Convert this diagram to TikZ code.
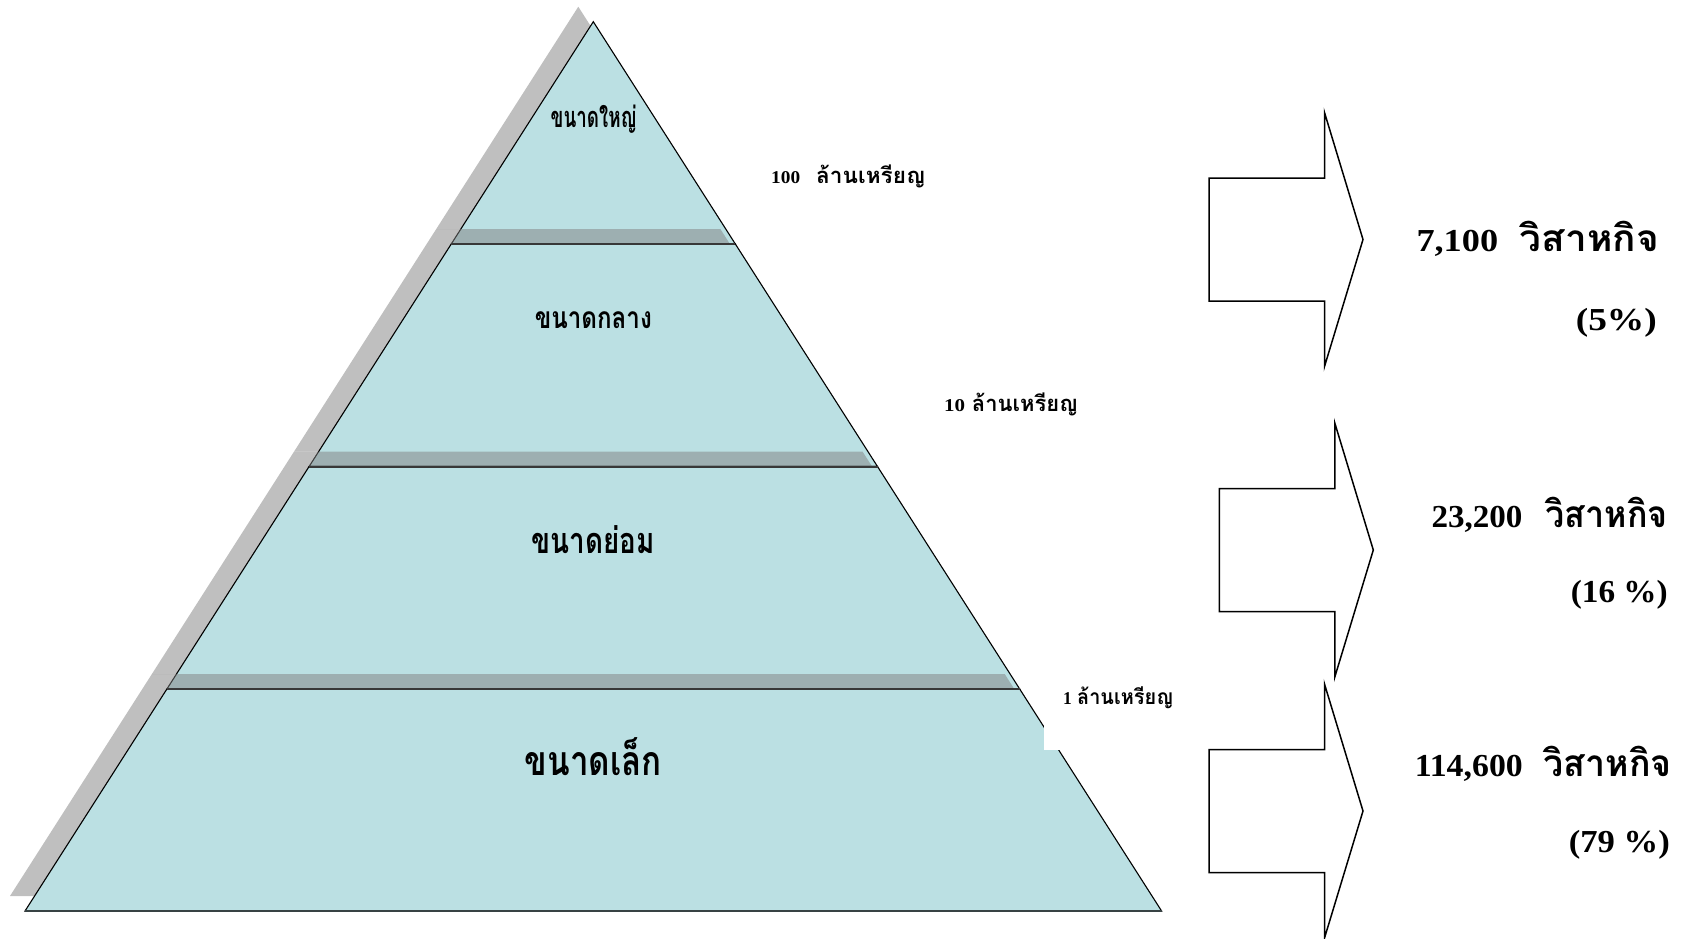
\documentclass[tikz,border=0pt]{standalone}
\usepackage{fontspec}
\usepackage{graphicx}
\setmainfont{Liberation Serif}
\newfontfamily\thai[Script=Thai]{Loma}
\definecolor{pyrfill}{RGB}{187,224,227}
\definecolor{shadowgray}{RGB}{128,128,128}
\newcommand\fitw[2]{\resizebox{#1}{\height}{#2}}
\newcommand\fs[1]{\fontsize{#1}{#1}\selectfont}
\tikzset{
  section/.style={fill=pyrfill, draw=black, line width=1.1pt, line join=miter},
  shade/.style={fill=shadowgray, fill opacity=0.5, draw=none, shift={(-15,-15)}},
  divline/.style={draw=black!78, line width=2pt},
  arrowline/.style={draw=black, line width=1.5pt, fill=white, line join=miter},
  lbl/.style={inner sep=0pt, font=\bfseries},
  blockarrow/.pic={\draw[arrowline] (0,-61.5) -- (115.5,-61.5) -- (115.5,-127) -- (154,0) -- (115.5,127) -- (115.5,61.5) -- (0,61.5) -- cycle;}
}
\begin{document}
\begin{tikzpicture}[x=1pt,y=-1pt]
\useasboundingbox (0,0) rectangle (1682,938);
% section 1 (top)
\fill[shade] (593.3,21.7) -- (735.35,244) -- (451.25,244) -- cycle;
\filldraw[section] (593.3,21.7) -- (735.35,244) -- (451.25,244) -- cycle;
% section 2
\fill[shade] (451.25,244) -- (735.35,244) -- (877.5,466.5) -- (309.1,466.5) -- cycle;
\filldraw[section] (451.25,244) -- (735.35,244) -- (877.5,466.5) -- (309.1,466.5) -- cycle;
% section 3
\fill[shade] (309.1,466.5) -- (877.5,466.5) -- (1019.7,689) -- (166.9,689) -- cycle;
\filldraw[section] (309.1,466.5) -- (877.5,466.5) -- (1019.7,689) -- (166.9,689) -- cycle;
% section 4
\fill[shade] (166.9,689) -- (1019.7,689) -- (1161.6,911) -- (25,911) -- cycle;
\filldraw[section] (166.9,689) -- (1019.7,689) -- (1161.6,911) -- (25,911) -- cycle;
% division lines
\draw[divline] (451.25,244) -- (735.35,244);
\draw[divline] (309.1,466.5) -- (877.5,466.5);
\draw[divline] (166.9,689) -- (1019.7,689);
\draw[draw=black!70!pyrfill, line width=2pt] (25,911) -- (1161.6,911);
% white label box over the edge
\fill[white] (1044,680) rectangle (1200,750);
% pyramid labels
\node[lbl, anchor=base] (large) at (593.7,127.7) {\thai\fs{29}\fitw{86pt}{ขนาดใหญ่}};
\node[lbl, anchor=base] (medium) at (593.3,328.3) {\thai\fs{30}\fitw{117pt}{ขนาดกลาง}};
\node[lbl, anchor=base] (smallmed) at (593.3,553) {\thai\fs{36}\fitw{123pt}{ขนาดย่อม}};
\node[lbl, anchor=base] (small) at (593.3,775) {\thai\fs{41}\fitw{137pt}{ขนาดเล็ก}};
% threshold labels
\node[lbl, anchor=base west] (t100) at (771,183) {\fs{18}\fitw{29pt}{100}\hspace{16pt}{\thai\fs{22}\fitw{109pt}{ล้านเหรียญ}}};
\node[lbl, anchor=base west] (t10) at (944,411) {\fs{18}\fitw{21pt}{10}\hspace{6.7pt}{\thai\fs{22}\fitw{106pt}{ล้านเหรียญ}}};
\node[lbl, anchor=base west] (t1) at (1063,704.3) {\fs{18}\fitw{8.7pt}{1}\hspace{5.3pt}{\thai\fs{21}\fitw{96pt}{ล้านเหรียญ}}};
% arrows
\pic (arr1) at (1209,239.5) {blockarrow};
\pic (arr2) at (1219.3,550) {blockarrow};
\pic (arr3) at (1209,811) {blockarrow};
% counts
\node[lbl, anchor=base east] (c1) at (1659,251.7) {\fs{32}\fitw{81.7pt}{7,100}\hspace{21.6pt}{\thai\fs{37}\fitw{139pt}{วิสาหกิจ}}};
\node[lbl, anchor=base east] (p1) at (1657,330.5) {\fs{32}\fitw{81pt}{(5\%)}};
\node[lbl, anchor=base east] (c2) at (1668,527.7) {\fs{32}\fitw{91pt}{23,200}\hspace{23.3pt}{\thai\fs{37}\fitw{122pt}{วิสาหกิจ}}};
\node[lbl, anchor=base east] (p2) at (1668,602.5) {\fs{32}\fitw{97pt}{(16 \%)}};
\node[lbl, anchor=base east] (c3) at (1672,776.7) {\fs{32}\fitw{108pt}{114,600}\hspace{21pt}{\thai\fs{37}\fitw{128pt}{วิสาหกิจ}}};
\node[lbl, anchor=base east] (p3) at (1670,852.5) {\fs{32}\fitw{101pt}{(79 \%)}};
\end{tikzpicture}
\end{document}
